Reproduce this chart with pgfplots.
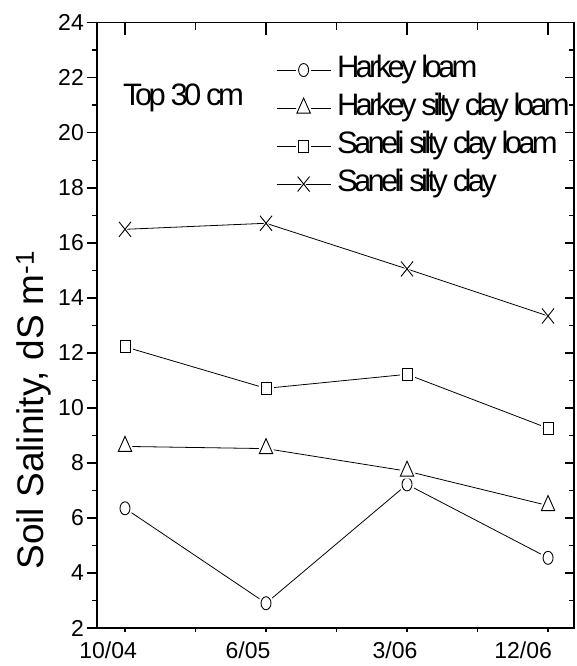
\documentclass[border=0pt]{standalone}
\usepackage{fontspec}
\setmainfont{Liberation Sans}
\newfontfamily\tightfont[LetterSpace=-12]{Liberation Sans}
\usepackage{pgfplots}
\pgfplotsset{compat=1.18}

\def\hcircpath{\pgfpathellipse{\pgfpointorigin}{\pgfpoint{5pt}{0pt}}{\pgfpoint{0pt}{6.5pt}}}
\def\htripath{\pgfpathmoveto{\pgfpoint{0pt}{10pt}}\pgfpathlineto{\pgfpoint{-6.7pt}{-5pt}}\pgfpathlineto{\pgfpoint{6.7pt}{-5pt}}\pgfpathclose}
\def\hsqpath{\pgfpathrectangle{\pgfpoint{-5pt}{-6pt}}{\pgfpoint{10pt}{12pt}}}
\def\hxpath{\pgfpathmoveto{\pgfpoint{-6pt}{-7.5pt}}\pgfpathlineto{\pgfpoint{6pt}{7.5pt}}\pgfpathmoveto{\pgfpoint{-6pt}{7.5pt}}\pgfpathlineto{\pgfpoint{6pt}{-7.5pt}}}
\pgfdeclareplotmark{hcirc}{\hcircpath\pgfsetcolor{white}\pgfsetlinewidth{5pt}\pgfusepath{fill,stroke}\hcircpath\pgfsetcolor{black}\pgfsetlinewidth{0.9pt}\pgfusepath{stroke}}
\pgfdeclareplotmark{htri}{\htripath\pgfsetcolor{white}\pgfsetlinewidth{5pt}\pgfusepath{fill,stroke}\htripath\pgfsetcolor{black}\pgfsetlinewidth{0.9pt}\pgfusepath{stroke}}
\pgfdeclareplotmark{hsq}{\hsqpath\pgfsetcolor{white}\pgfsetlinewidth{5pt}\pgfusepath{fill,stroke}\hsqpath\pgfsetcolor{black}\pgfsetlinewidth{0.9pt}\pgfusepath{stroke}}
\pgfdeclareplotmark{hx}{\hxpath\pgfsetcolor{white}\pgfsetlinewidth{3pt}\pgfusepath{stroke}\hxpath\pgfsetcolor{black}\pgfsetlinewidth{0.9pt}\pgfusepath{stroke}}

\pgfplotsset{
  common/.style={
    at={(97pt,38pt)}, anchor=south west, scale only axis,
    width=477pt, height=605.3pt,
    xmin=-0.1986, xmax=3.184, ymin=2, ymax=24,
    axis line style={line width=1.6pt},
    tick style={black, line width=1.5pt},
  }
}

\begin{document}
\begin{tikzpicture}[x=1pt,y=1pt]
\useasboundingbox (0,0) rectangle (576,666);
\begin{axis}[common,
  xtick={-0.12,0.872,1.915,2.823},
  xticklabels={10/04,6/05,3/06,12/06},
  major x tick style={draw=none},
  minor xtick={0,0.5,1,1.5,2,2.5,3},
  xtick pos=left, ytick pos=left,
  tick align=outside,
  ytick={2,4,...,24}, minor y tick num=1,
  major tick length=10pt, minor tick length=4.5pt,
  /pgf/number format/assume math mode=true,
  yticklabel style={font=\fontsize{23}{23}\selectfont, inner sep=0pt, anchor=east, xshift=-3pt},
  xticklabel style={font=\fontsize{23}{23}\selectfont, inner sep=0pt, anchor=base, yshift=-21pt},
  ylabel={Soil Salinity, dS m\textsuperscript{-1}},
  every axis y label/.style={at={(axis description cs:-0.1132,0.36)}, rotate=90, anchor=base, font=\fontsize{37}{37}\selectfont},
  legend style={at={(axis description cs:0.369,0.951)}, anchor=north west, draw=none, fill=none,
    font=\tightfont\fontsize{31}{31}\selectfont, row sep=7pt,
    nodes={inner sep=0pt, text height=23pt, text depth=8pt},
    /tikz/every odd column/.append style={column sep=6pt}},
  legend cell align=left,
  legend image code/.code={\draw[mark repeat=2,mark phase=2] plot coordinates {(0pt,0pt) (27pt,0pt) (54pt,0pt)};},
]
\addplot[black, line width=0.8pt, mark=hcirc] coordinates {(0,6.35) (1,2.9) (2,7.22) (3,4.55)};
\addlegendentry{Harkey loam}
\addplot[black, line width=0.8pt, mark=htri] coordinates {(0,8.6) (1,8.52) (2,7.7) (3,6.45)};
\addlegendentry{Harkey silty clay loam}
\addplot[black, line width=0.8pt, mark=hsq] coordinates {(0,12.22) (1,10.71) (2,11.22) (3,9.26)};
\addlegendentry{Saneli silty clay loam}
\addplot[black, line width=0.8pt, mark=hx] coordinates {(0,16.49) (1,16.71) (2,15.05) (3,13.34)};
\addlegendentry{Saneli silty clay}
\node[anchor=base west, font=\tightfont\fontsize{31}{31}\selectfont, inner sep=0pt] at (axis description cs:0.0545,0.864) {Top 30 cm};
\end{axis}
\begin{axis}[common,
  xtick={0,1,2,3}, minor xtick={0.5,1.5,2.5}, xticklabels={},
  xtick pos=right, ytick=\empty,
  tick align=inside, major tick length=12pt, minor tick length=7pt]
\end{axis}
\begin{axis}[common,
  ytick={2,4,...,24}, minor y tick num=1, yticklabels={},
  ytick pos=right, xtick=\empty,
  tick align=inside, major tick length=9pt, minor tick length=5pt]
\end{axis}
\end{tikzpicture}
\end{document}
